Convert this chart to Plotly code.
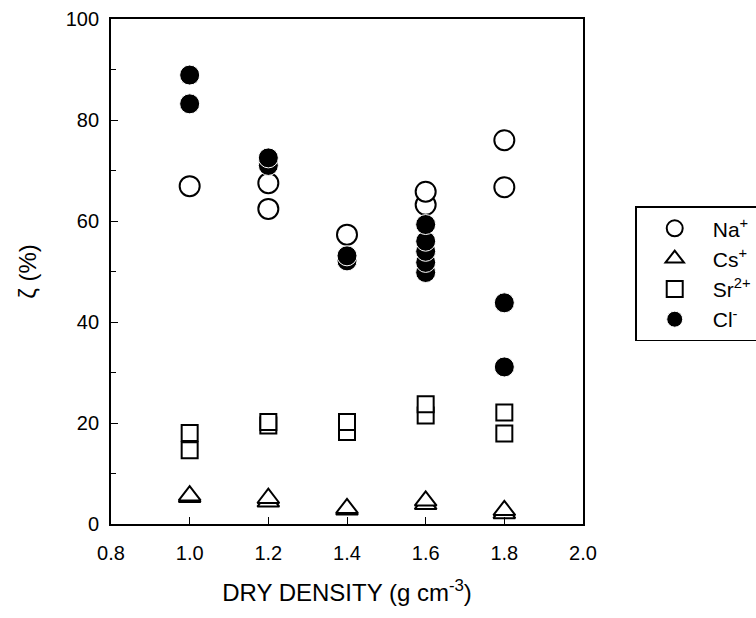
import plotly.graph_objects as go

# Dry density (g cm^-3) and measured zeta values (%) for each ion
na_density = [1.0, 1.2, 1.2, 1.4, 1.6, 1.6, 1.8, 1.8]
na_zeta = [66.9, 62.4, 67.5, 57.3, 63.2, 65.8, 66.7, 76.0]

cs_density = [1.0, 1.0, 1.2, 1.2, 1.4, 1.4, 1.6, 1.6, 1.8, 1.8]
cs_zeta = [5.3, 5.6, 4.4, 5.1, 2.8, 3.1, 3.9, 4.6, 2.1, 2.7]

sr_density = [1.0, 1.0, 1.2, 1.2, 1.4, 1.4, 1.6, 1.6, 1.8, 1.8]
sr_zeta = [14.6, 18.0, 19.5, 20.2, 18.2, 20.2, 21.5, 23.7, 17.9, 22.1]

cl_density = [1.0, 1.0, 1.2, 1.2, 1.4, 1.4, 1.6, 1.6, 1.6, 1.6, 1.6, 1.8, 1.8]
cl_zeta = [83.2, 88.9, 71.0, 72.5, 52.1, 53.1, 49.8, 51.8, 54.0, 56.0, 59.3, 31.1, 43.8]

series_names = ["Na<sup>+</sup>", "Cs<sup>+</sup>", "Sr<sup>2+</sup>", "Cl<sup>-</sup>"]

x_ticks = [0.8, 1.0, 1.2, 1.4, 1.6, 1.8, 2.0]
y_ticks = [0, 20, 40, 60, 80, 100]

FONT = "Liberation Sans, Arial, Helvetica, sans-serif"

fig = go.Figure()

fig.add_trace(go.Scatter(
    x=na_density, y=na_zeta, mode="markers", name=series_names[0],
    marker=dict(symbol="circle", size=20, color="white",
                line=dict(color="black", width=2)),
))
fig.add_trace(go.Scatter(
    x=cs_density, y=cs_zeta, mode="markers", name=series_names[1],
    marker=dict(symbol="triangle-up", size=19, color="white",
                line=dict(color="black", width=2)),
))
fig.add_trace(go.Scatter(
    x=sr_density, y=sr_zeta, mode="markers", name=series_names[2],
    marker=dict(symbol="square", size=16, color="white",
                line=dict(color="black", width=2)),
))
fig.add_trace(go.Scatter(
    x=cl_density, y=cl_zeta, mode="markers", name=series_names[3],
    marker=dict(symbol="circle", size=20, color="black",
                line=dict(color="white", width=1)),
))

axis_common = dict(
    showgrid=False, zeroline=False, showline=True, linecolor="black",
    linewidth=1.8, mirror=True, ticks="inside", ticklen=7, tickwidth=1.3,
    tickcolor="black", tickfont=dict(family=FONT, size=20, color="black"),
)

fig.update_xaxes(
    range=[0.8, 2.0], tickvals=x_ticks, ticktext=[f"{v:.1f}" for v in x_ticks],
    ticklabelstandoff=10,
    title=dict(text="DRY DENSITY (g cm<sup>-3</sup>)",
               font=dict(family=FONT, size=24, color="black"), standoff=21),
    **axis_common,
)
fig.update_yaxes(
    range=[0, 100], tickvals=y_ticks, ticklabelstandoff=6,
    minor=dict(ticks="inside", ticklen=5, tickwidth=1.3, tickcolor="black", dtick=10),
    title=dict(text="ζ (%)", font=dict(family=FONT, size=24, color="black"), standoff=22),
    **axis_common,
)

fig.update_layout(
    width=756, height=618,
    margin=dict(l=111, r=173, t=19, b=94, autoexpand=False),
    paper_bgcolor="white", plot_bgcolor="white",
    showlegend=True,
    legend=dict(
        x=1.11, xanchor="left", y=0.629, yanchor="top",
        bordercolor="black", borderwidth=1.8, bgcolor="white",
        font=dict(family=FONT, size=21, color="black"),
        itemsizing="trace", itemwidth=66,
    ),
)

fig.write_html("out.html")
